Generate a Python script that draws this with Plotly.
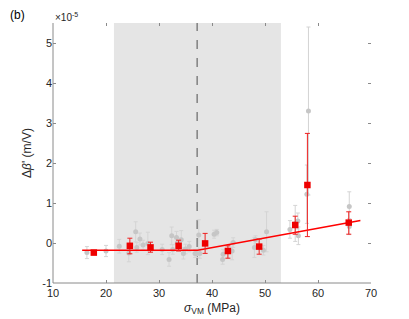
import plotly.graph_objects as go

# Gray (individual) measurements, y in units of 1e-5 m/V
gray_x = [16.4, 20.0, 22.5, 24.3, 25.6, 25.8, 26.4, 27.0, 27.9, 30.6, 31.9, 32.4, 32.6, 33.3,
          33.5, 34.2, 34.6, 35.0, 35.7, 36.8, 37.1, 37.5, 37.7, 40.4, 40.9, 42.0, 42.1, 43.8,
          44.0, 48.0, 48.2, 49.7, 50.3, 54.7, 55.7, 56.2, 56.3, 57.9, 58.2, 65.9, 65.9]
gray_y = [-0.24, -0.20, -0.08, -0.25, 0.28, -0.11, 0.10, -0.05, -0.01, -0.16, -0.41, 0.18, -0.16, 0.14,
          0.01, 0.08, -0.26, -0.15, -0.09, -0.26, -0.26, 0.20, -0.26, 0.22, 0.26, -0.41, -0.28, -0.20,
          0.01, -0.11, 0.08, -0.18, 0.28, 0.34, 0.49, 0.55, 0.18, 1.22, 3.30, 0.91, 0.41]
gray_err = [0.15, 0.14, 0.17, 0.22, 0.25, 0.12, 0.15, 0.12, 0.28, 0.13, 0.17, 0.22, 0.12, 0.15,
            0.12, 0.23, 0.14, 0.12, 0.13, 0.10, 0.10, 0.38, 0.12, 0.10, 0.08, 0.12, 0.12, 0.22,
            0.12, 0.25, 0.10, 0.12, 0.50, 0.22, 0.45, 0.20, 0.22, 0.73, 2.10, 0.37, 0.20]

# Red (binned) means
red_x = [17.7, 24.5, 28.4, 33.7, 38.7, 43.0, 48.9, 55.7, 58.0, 65.8]
red_y = [-0.24, -0.07, -0.11, -0.07, -0.01, -0.20, -0.09, 0.45, 1.45, 0.51]
red_err_plus = [0.05, 0.19, 0.13, 0.14, 0.25, 0.13, 0.19, 0.22, 1.29, 0.27]
red_err_minus = [0.05, 0.20, 0.12, 0.13, 0.25, 0.18, 0.19, 0.23, 1.29, 0.29]

# Piecewise fit
fit_x = [15.5, 37.3, 68.0]
fit_y = [-0.18, -0.18, 0.56]

shade_x = [21.5, 53.0]
threshold_x = 37.2

x_ticks = [10, 20, 30, 40, 50, 60, 70]
y_ticks = [-1, 0, 1, 2, 3, 4, 5]

FONT = "Liberation Sans, Arial, sans-serif"
TXT = "#262626"
AX = "#8a8a8a"

fig = go.Figure()

fig.add_trace(go.Scatter(
    x=gray_x, y=gray_y, mode="markers",
    marker=dict(symbol="circle", size=5, color="#c6c6c6"),
    error_y=dict(type="data", array=gray_err, color="#d4d4d4", thickness=1, width=2),
    showlegend=False, hoverinfo="skip"))

fig.add_trace(go.Scatter(
    x=fit_x, y=fit_y, mode="lines",
    line=dict(color="#ff0000", width=1.5),
    showlegend=False, hoverinfo="skip"))

fig.add_trace(go.Scatter(
    x=red_x, y=red_y, mode="markers",
    marker=dict(symbol="square", size=6.5, color="#ee0000"),
    error_y=dict(type="data", symmetric=False, array=red_err_plus, arrayminus=red_err_minus,
                 color="#ee2020", thickness=1, width=2.5),
    showlegend=False, hoverinfo="skip"))

fig.add_shape(type="rect", xref="x", yref="paper", x0=shade_x[0], x1=shade_x[1], y0=0, y1=1,
              fillcolor="#e5e5e5", line=dict(width=0), layer="below")
fig.add_shape(type="line", xref="x", yref="paper", x0=threshold_x, x1=threshold_x, y0=0, y1=1,
              line=dict(color="#808080", width=1.5, dash="dash"), layer="below")
# left and bottom axis lines
fig.add_shape(type="line", xref="paper", yref="paper", x0=0, x1=0, y0=0, y1=1,
              line=dict(color=AX, width=1))
fig.add_shape(type="line", xref="paper", yref="paper", x0=0, x1=1, y0=0, y1=0,
              line=dict(color=AX, width=1))

fig.update_xaxes(range=[10, 70], tickvals=x_ticks, ticktext=[str(v) for v in x_ticks],
                 showgrid=False, zeroline=False, showline=False, mirror="ticks",
                 ticks="inside", ticklen=3, tickcolor=AX, tickwidth=1, automargin=False,
                 ticklabelstandoff=2,
                 tickfont=dict(family=FONT, size=11, color=TXT),
                 title=dict(text="<i>σ</i><sub>VM</sub> (MPa)", standoff=5,
                            font=dict(family=FONT, size=12, color=TXT)))
fig.update_yaxes(range=[-1, 5.5], tickvals=y_ticks, ticktext=[str(v) for v in y_ticks],
                 showgrid=False, zeroline=False, showline=False, mirror="ticks",
                 ticks="inside", ticklen=3, tickcolor=AX, tickwidth=1, automargin=False,
                 tickfont=dict(family=FONT, size=11, color=TXT),
                 title=dict(text="Δ<i>β</i>' (m/V)", standoff=8,
                            font=dict(family=FONT, size=12, color=TXT)))

fig.add_annotation(text="×10<sup>-5</sup>", xref="paper", yref="paper", x=0, y=1,
                   xanchor="left", yanchor="bottom", showarrow=False, yshift=-2,
                   font=dict(family=FONT, size=10, color=TXT))
fig.add_annotation(text="(b)", xref="paper", x=-0.141, yref="paper", y=1,
                   xanchor="left", yanchor="bottom", showarrow=False, yshift=-1,
                   font=dict(family=FONT, size=12, color="#000000"))

# the page body has an 8px margin, so the figure is 8px smaller and margins compensated
fig.update_layout(width=401, height=311, margin=dict(l=45, r=38, t=15, b=36, autoexpand=False),
                  plot_bgcolor="white", paper_bgcolor="white")

fig.write_html("out.html")
